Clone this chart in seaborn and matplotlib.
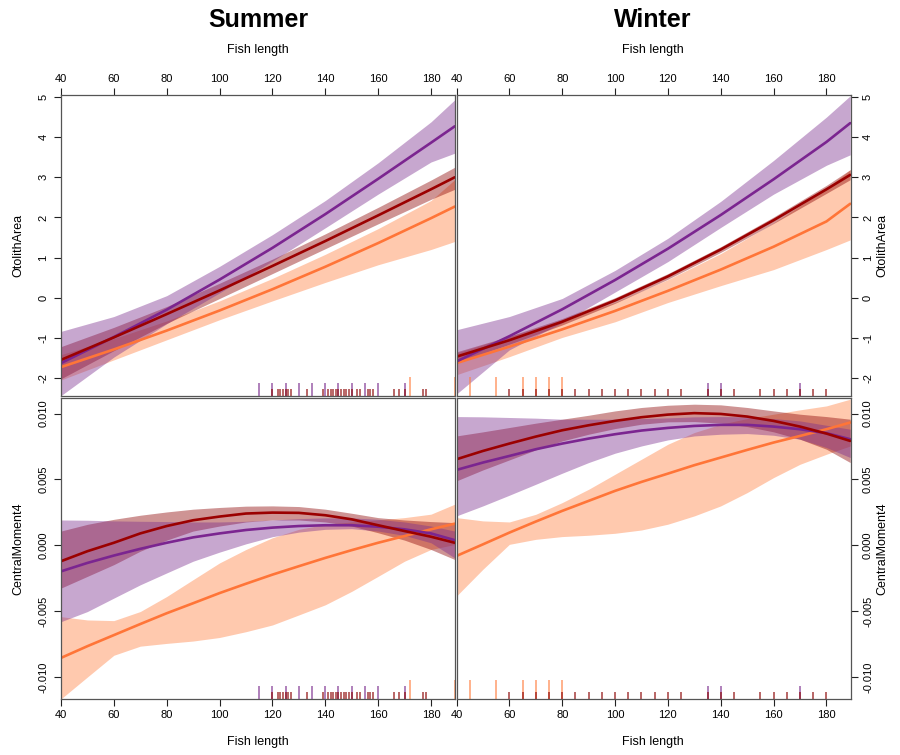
import pandas as pd
import seaborn as sns
import matplotlib
matplotlib.use("Agg")
import matplotlib.pyplot as plt

# fish length grids the curves were read at
len_area = [40, 60, 80, 100, 120, 140, 160, 180, 189]
len_cm4 = [40, 50, 60, 70, 80, 90, 100, 110, 120, 130, 140, 150, 160, 170, 180, 189]

# Summer, OtolithArea
su_area_pur = [-1.63, -0.98, -0.30, 0.45, 1.24, 2.08, 2.96, 3.86, 4.27]
su_area_pur_hi = [-0.84, -0.47, 0.05, 0.78, 1.57, 2.42, 3.36, 4.38, 4.93]
su_area_pur_lo = [-2.44, -1.48, -0.65, 0.12, 0.91, 1.74, 2.58, 3.38, 3.60]
su_area_red = [-1.55, -0.99, -0.41, 0.18, 0.79, 1.41, 2.05, 2.70, 3.00]
su_area_red_hi = [-1.22, -0.74, -0.22, 0.36, 0.96, 1.59, 2.25, 2.93, 3.25]
su_area_red_lo = [-2.02, -1.32, -0.64, -0.02, 0.60, 1.22, 1.84, 2.45, 2.70]
su_area_ora = [-1.73, -1.29, -0.82, -0.32, 0.21, 0.77, 1.36, 1.98, 2.27]
su_area_ora_hi = [-1.42, -1.02, -0.58, -0.08, 0.48, 1.08, 1.72, 2.42, 2.94]
su_area_ora_lo = [-2.05, -1.55, -1.05, -0.55, -0.08, 0.38, 0.82, 1.20, 1.40]

# Winter, OtolithArea
wi_area_pur = [-1.59, -0.96, -0.29, 0.44, 1.22, 2.06, 2.95, 3.88, 4.35]
wi_area_pur_hi = [-0.80, -0.47, -0.02, 0.68, 1.48, 2.40, 3.42, 4.50, 5.03]
wi_area_pur_lo = [-2.40, -1.30, -0.62, 0.14, 0.90, 1.75, 2.58, 3.30, 3.56]
wi_area_red = [-1.47, -1.06, -0.60, -0.07, 0.53, 1.20, 1.93, 2.70, 3.06]
wi_area_red_hi = [-1.35, -0.96, -0.52, 0.00, 0.60, 1.27, 2.01, 2.80, 3.19]
wi_area_red_lo = [-1.62, -1.16, -0.68, -0.14, 0.46, 1.13, 1.85, 2.60, 2.94]
wi_area_ora = [-1.63, -1.22, -0.79, -0.33, 0.17, 0.70, 1.27, 1.90, 2.34]
wi_area_ora_hi = [-1.38, -0.97, -0.55, -0.12, 0.45, 1.10, 1.86, 2.72, 3.19]
wi_area_ora_lo = [-1.92, -1.47, -0.99, -0.60, -0.12, 0.30, 0.70, 1.20, 1.44]

# Summer, CentralMoment4
su_cm4_pur = [-0.00198, -0.00134, -0.00078, -0.00027, 0.00019, 0.00060, 0.00090, 0.00116,
              0.00134, 0.00146, 0.00152, 0.00152, 0.00141, 0.00121, 0.00090, 0.00039]
su_cm4_pur_hi = [0.00192, 0.00190, 0.00185, 0.00182, 0.00180, 0.00177, 0.00177, 0.00182,
                 0.00192, 0.00202, 0.00208, 0.00208, 0.00197, 0.00177, 0.00146, 0.00108]
su_cm4_pur_lo = [-0.00580, -0.00503, -0.00401, -0.00300, -0.00210, -0.00121, -0.00052, 0.00011,
                 0.00065, 0.00100, 0.00121, 0.00126, 0.00108, 0.00075, 0.00019, -0.00096]
su_cm4_red = [-0.00121, -0.00045, 0.00019, 0.00090, 0.00146, 0.00190, 0.00218, 0.00241,
              0.00248, 0.00246, 0.00228, 0.00197, 0.00152, 0.00108, 0.00065, 0.00019]
su_cm4_red_hi = [0.00108, 0.00159, 0.00197, 0.00228, 0.00253, 0.00274, 0.00287, 0.00297,
                 0.00299, 0.00294, 0.00274, 0.00243, 0.00210, 0.00192, 0.00180, 0.00172]
su_cm4_red_lo = [-0.00325, -0.00236, -0.00147, -0.00045, 0.00039, 0.00108, 0.00146, 0.00177,
                 0.00192, 0.00192, 0.00177, 0.00146, 0.00095, 0.00039, -0.00032, -0.00108]
su_cm4_ora = [-0.00855, -0.00766, -0.00682, -0.00598, -0.00516, -0.00440, -0.00363, -0.00292,
              -0.00223, -0.00159, -0.00096, -0.00037, 0.00019, 0.00070, 0.00121, 0.00164]
su_cm4_ora_hi = [-0.00542, -0.00567, -0.00572, -0.00503, -0.00389, -0.00261, -0.00134, -0.00032,
                 0.00057, 0.00121, 0.00159, 0.00177, 0.00192, 0.00210, 0.00236, 0.00312]
su_cm4_ora_lo = [-0.01166, -0.01000, -0.00835, -0.00766, -0.00745, -0.00727, -0.00700, -0.00656,
                 -0.00605, -0.00529, -0.00452, -0.00350, -0.00236, -0.00121, -0.00032, 0.00006]

# Winter, CentralMoment4
wi_cm4_pur = [0.00572, 0.00628, 0.00678, 0.00729, 0.00772, 0.00810, 0.00843, 0.00871,
              0.00891, 0.00906, 0.00914, 0.00914, 0.00901, 0.00881, 0.00851, 0.00805]
wi_cm4_pur_hi = [0.00977, 0.00975, 0.00970, 0.00965, 0.00957, 0.00957, 0.00957, 0.00962,
                 0.00967, 0.00975, 0.00977, 0.00975, 0.00962, 0.00944, 0.00911, 0.00881]
wi_cm4_pur_lo = [0.00223, 0.00299, 0.00380, 0.00463, 0.00547, 0.00628, 0.00699, 0.00754,
                 0.00800, 0.00830, 0.00843, 0.00848, 0.00835, 0.00805, 0.00742, 0.00666]
wi_cm4_red = [0.00653, 0.00716, 0.00772, 0.00825, 0.00873, 0.00911, 0.00944, 0.00972,
              0.00992, 0.01003, 0.00997, 0.00977, 0.00944, 0.00901, 0.00848, 0.00792]
wi_cm4_red_hi = [0.00830, 0.00861, 0.00894, 0.00927, 0.00957, 0.00987, 0.01020, 0.01046,
                 0.01063, 0.01071, 0.01066, 0.01046, 0.01020, 0.00995, 0.00977, 0.00957]
wi_cm4_red_lo = [0.00489, 0.00572, 0.00648, 0.00724, 0.00792, 0.00843, 0.00886, 0.00919,
                 0.00937, 0.00939, 0.00927, 0.00901, 0.00861, 0.00805, 0.00729, 0.00628]
wi_cm4_ora = [-0.00081, 0.00007, 0.00096, 0.00180, 0.00261, 0.00337, 0.00413, 0.00481,
              0.00544, 0.00608, 0.00666, 0.00724, 0.00780, 0.00830, 0.00881, 0.00932]
wi_cm4_ora_hi = [0.00210, 0.00185, 0.00177, 0.00235, 0.00324, 0.00425, 0.00539, 0.00653,
                 0.00767, 0.00856, 0.00919, 0.00962, 0.00995, 0.01028, 0.01058, 0.01109]
wi_cm4_ora_lo = [-0.00385, -0.00182, 0.00007, 0.00045, 0.00066, 0.00076, 0.00091, 0.00116,
                 0.00160, 0.00223, 0.00299, 0.00400, 0.00514, 0.00615, 0.00691, 0.00754]

# observed fish lengths (rug)
su_rug_pur = [115, 120, 125, 130, 135, 140, 145, 150, 155, 160, 170]
su_rug_red = [120, 122, 123, 124, 125, 126, 127, 133, 139, 141, 142, 143, 144, 145, 146,
              147, 148, 149, 150, 152, 153, 156, 157, 158, 166, 168, 170, 177, 178]
su_rug_ora = [172, 189]
wi_rug_pur = [40, 135, 140, 170]
wi_rug_red = [60, 65, 70, 75, 80, 85, 90, 95, 100, 105, 110, 115, 120, 125,
              135, 140, 145, 155, 160, 165, 170, 175, 180]
wi_rug_ora = [45, 55, 65, 70, 75, 80]

x_ticks = [40, 60, 80, 100, 120, 140, 160, 180]
area_ticks = [-2, -1, 0, 1, 2, 3, 4, 5]
cm4_ticks = [-0.010, -0.005, 0.000, 0.005, 0.010]
cm4_labels = ["-0.010", "-0.005", "0.000", "0.005", "0.010"]

sns.set_style("white")
plt.rcParams['font.family'] = ['Liberation Sans', 'DejaVu Sans']
plt.rcParams['axes.unicode_minus'] = False
plt.rcParams['text.color'] = 'black'

pal = {'purple': '#7B2590', 'red': '#9B0000', 'orange': '#FF7538'}
band_col = {'purple': '#7B2D8E', 'red': '#8B0000', 'orange': '#FF7F3F'}
edge = '#555555'

W, H = 900, 755
fig = plt.figure(figsize=(W / 100, H / 100), dpi=100)


def add_ax(x0, y0, x1, y1):
    return fig.add_axes([x0 / W, 1 - y1 / H, (x1 - x0) / W, (y1 - y0) / H])


def draw_panel(ax, x, series, rugs, ylim):
    for name in ['orange', 'red', 'purple']:
        fit, lo, hi = series[name]
        ax.fill_between(x, lo, hi, color=band_col[name], alpha=0.42, lw=0)
    df = pd.concat([pd.DataFrame({'length': x, 'value': series[n][0], 'group': n})
                    for n in ['orange', 'purple', 'red']])
    sns.lineplot(data=df, x='length', y='value', hue='group', palette=pal,
                 linewidth=1.9, legend=False, ax=ax, sort=False)
    trans = ax.get_xaxis_transform()
    for name, h in [('orange', 0.063), ('purple', 0.043), ('red', 0.024)]:
        ax.vlines(rugs[name], 0, h, transform=trans, colors=band_col[name],
                  alpha=0.7, lw=1.2)
    ax.set_xlim(40, 189.1)
    ax.set_ylim(*ylim)
    ax.set_xlabel('')
    ax.set_ylabel('')
    for s in ax.spines.values():
        s.set_color(edge)
        s.set_linewidth(0.9)
    ax.tick_params(colors='#222222', labelcolor='black', length=5, width=0.8,
                   labelsize=8, pad=3)


area_lim = (-2.45, 5.05)
cm4_lim = (-0.01167, 0.01118)

axes = {}
axes['su_area'] = add_ax(61, 95, 455, 396)
axes['wi_area'] = add_ax(456.5, 95, 850.5, 396)
axes['su_cm4'] = add_ax(61, 398, 455, 699)
axes['wi_cm4'] = add_ax(456.5, 398, 850.5, 699)

su_rugs = {'purple': su_rug_pur, 'red': su_rug_red, 'orange': su_rug_ora}
wi_rugs = {'purple': wi_rug_pur, 'red': wi_rug_red, 'orange': wi_rug_ora}

draw_panel(axes['su_area'], len_area,
           {'purple': (su_area_pur, su_area_pur_lo, su_area_pur_hi),
            'red': (su_area_red, su_area_red_lo, su_area_red_hi),
            'orange': (su_area_ora, su_area_ora_lo, su_area_ora_hi)}, su_rugs, area_lim)
draw_panel(axes['wi_area'], len_area,
           {'purple': (wi_area_pur, wi_area_pur_lo, wi_area_pur_hi),
            'red': (wi_area_red, wi_area_red_lo, wi_area_red_hi),
            'orange': (wi_area_ora, wi_area_ora_lo, wi_area_ora_hi)}, wi_rugs, area_lim)
draw_panel(axes['su_cm4'], len_cm4,
           {'purple': (su_cm4_pur, su_cm4_pur_lo, su_cm4_pur_hi),
            'red': (su_cm4_red, su_cm4_red_lo, su_cm4_red_hi),
            'orange': (su_cm4_ora, su_cm4_ora_lo, su_cm4_ora_hi)}, su_rugs, cm4_lim)
draw_panel(axes['wi_cm4'], len_cm4,
           {'purple': (wi_cm4_pur, wi_cm4_pur_lo, wi_cm4_pur_hi),
            'red': (wi_cm4_red, wi_cm4_red_lo, wi_cm4_red_hi),
            'orange': (wi_cm4_ora, wi_cm4_ora_lo, wi_cm4_ora_hi)}, wi_rugs, cm4_lim)

# ticks only on outer edges, like a lattice plot
for key in ['su_area', 'wi_area']:
    ax = axes[key]
    ax.set_xticks(x_ticks)
    ax.xaxis.tick_top()
    ax.set_yticks(area_ticks)
for key in ['su_cm4', 'wi_cm4']:
    ax = axes[key]
    ax.set_xticks(x_ticks)
    ax.xaxis.tick_bottom()
    ax.set_yticks(cm4_ticks)
    ax.set_yticklabels(cm4_labels)
for key in ['su_area', 'su_cm4']:
    axes[key].yaxis.tick_left()
for key in ['wi_area', 'wi_cm4']:
    axes[key].yaxis.tick_right()
for ax in axes.values():
    ax.tick_params(axis='y', labelrotation=90, pad=4)
    for lab in ax.get_yticklabels():
        lab.set_va('center')

# titles and axis labels
fig.text(258 / W, 1 - 20 / H, 'Summer', ha='center', va='center', fontsize=18, fontweight='bold')
fig.text(653 / W, 1 - 20 / H, 'Winter', ha='center', va='center', fontsize=18, fontweight='bold')
for cx in [258, 653]:
    fig.text(cx / W, 1 - 50 / H, 'Fish length', ha='center', va='center', fontsize=9)
    fig.text(cx / W, 1 - 742 / H, 'Fish length', ha='center', va='center', fontsize=9)
for lx in [18, 882]:
    fig.text(lx / W, 1 - 245 / H, 'OtolithArea', ha='center', va='center', rotation=90, fontsize=9)
    fig.text(lx / W, 1 - 549 / H, 'CentralMoment4', ha='center', va='center', rotation=90, fontsize=9)

fig.savefig('out.png', dpi=100)
